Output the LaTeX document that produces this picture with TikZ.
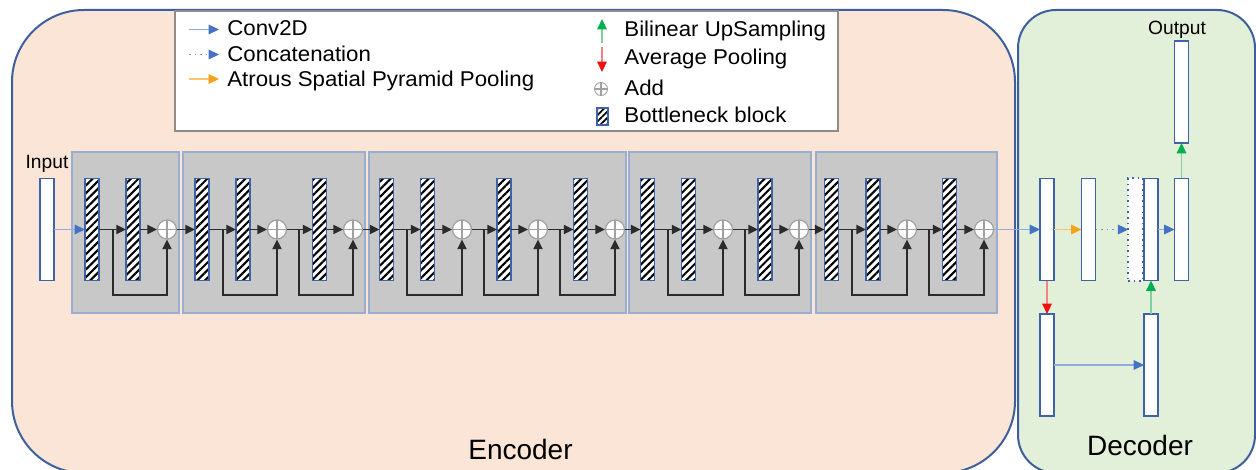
\documentclass[tikz,border=0pt]{standalone}
\usepackage{fontspec}
\setmainfont{Liberation Sans}
\newfontfamily\legfont{Liberation Sans}[FakeStretch=1.04]
\usetikzlibrary{arrows.meta,patterns.meta,calc}
\definecolor{encfill}{HTML}{FBE5D6}
\definecolor{decfill}{HTML}{E2F0D9}
\definecolor{frame}{HTML}{3E5F9E}
\definecolor{stagefill}{HTML}{C8C8C8}
\definecolor{stageline}{HTML}{9AAECF}
\definecolor{barline}{HTML}{3F62A6}
\definecolor{blueL}{HTML}{8FAADC}
\definecolor{blueD}{HTML}{7393D3}
\definecolor{blueH}{HTML}{4472C4}
\definecolor{orangeL}{HTML}{FFC46B}
\definecolor{orangeH}{HTML}{F5A21B}
\definecolor{greenL}{HTML}{7FD1A0}
\definecolor{greenH}{HTML}{00B050}
\definecolor{redL}{HTML}{F08585}
\definecolor{redH}{HTML}{F01010}
\definecolor{addline}{HTML}{A0A0A0}
\definecolor{flow}{HTML}{2B2B2B}
\definecolor{legline}{HTML}{8C8C8C}
\tikzset{
  barbox/.style={draw=barline, line width=0.75pt, fill=white, minimum width=7pt, minimum height=51pt, inner sep=0pt, outer sep=0pt},
  hbar/.style={barbox, preaction={fill=white}, pattern={Lines[angle=45,distance=2.7pt,line width=1.05pt]}},
  dbar/.style={barbox, dotted, line width=1pt},
  addnode/.style={circle, draw=addline, fill=white, line width=0.6pt, minimum size=9.5pt, inner sep=0pt,
    path picture={\draw[addline, line width=0.6pt] (path picture bounding box.north) -- (path picture bounding box.south) (path picture bounding box.west) -- (path picture bounding box.east);}},
  flowarrow/.style={draw=flow, line width=0.7pt, -{Triangle[length=4.8pt,width=4.6pt]}},
  bluearrow/.style={draw=blueL, line width=0.7pt, -{Triangle[length=5.2pt,width=4.8pt,color=blueH]}},
  dotarrow/.style={draw=blueD, line width=0.8pt, dotted, -{Triangle[length=5.2pt,width=4.8pt,color=blueH]}},
  orangearrow/.style={draw=orangeL, line width=0.7pt, -{Triangle[length=5.2pt,width=4.8pt,color=orangeH]}},
  greenarrow/.style={draw=greenL, line width=0.7pt, -{Triangle[length=5.2pt,width=4.8pt,color=greenH]}},
  redarrow/.style={draw=redL, line width=0.7pt, -{Triangle[length=5.2pt,width=4.8pt,color=redH]}},
  stagebox/.style={draw=stageline, fill=stagefill, line width=0.6pt},
  legtext/.style={inner sep=0pt, anchor=base west, font=\legfont\fontsize{10.7}{12}\selectfont},
  bigtext/.style={inner sep=0pt, anchor=base, font=\fontsize{14}{16}\selectfont},
  smalltext/.style={inner sep=0pt, anchor=base, font=\fontsize{9.6}{11}\selectfont},
}
\begin{document}
\begin{tikzpicture}[x=0.5pt, y=-0.5pt]
\useasboundingbox (0,0) rectangle (1256,470);
% panels
\draw[draw=frame, line width=1pt, fill=encfill, rounded corners=36pt] (12,10) rectangle (1015,473);
\draw[draw=frame, line width=1pt, fill=decfill, rounded corners=19pt] (1018,10) rectangle (1255,473);
\node[bigtext] (enc) at (520.5,459) {Encoder};
\node[bigtext] (dec) at (1140,455) {Decoder};
% legend
\draw[draw=legline, line width=0.6pt, fill=white] (175,11) rectangle (838,131);
\coordinate (l1a) at (189,29.5); \coordinate (l1b) at (219,29.5);
\coordinate (l2a) at (189,54.5); \coordinate (l2b) at (219,54.5);
\coordinate (l3a) at (189,79); \coordinate (l3b) at (219,79);
\draw[bluearrow] (l1a) -- (l1b);
\draw[dotarrow, line width=0.6pt] (l2a) -- (l2b);
\draw[orangearrow] (l3a) -- (l3b);
\node[legtext] (t1) at (227,36) {Conv2D};
\node[legtext] (t2) at (227,61.5) {Concatenation};
\node[legtext] (t3) at (227,86.5) {Atrous Spatial Pyramid Pooling};
\coordinate (r1a) at (602,43); \coordinate (r1b) at (602,19);
\coordinate (r2a) at (602,47); \coordinate (r2b) at (602,72);
\draw[greenarrow] (r1a) -- (r1b);
\draw[redarrow] (r2a) -- (r2b);
\node[addnode, minimum size=6.5pt, line width=0.45pt] (ladd) at (601,89) {};
\node[hbar, minimum width=5.5pt, minimum height=8.5pt, line width=0.6pt, pattern={Lines[angle=45,distance=2.2pt,line width=0.9pt]}] (lbar) at (602.5,116.5) {};
\node[legtext] (t4) at (624,37) {Bilinear UpSampling};
\node[legtext] (t5) at (624,65) {Average Pooling};
\node[legtext] (t6) at (624,96) {Add};
\node[legtext] (t7) at (624,123) {Bottleneck block};
% stages
\draw[stagebox] (72,152) rectangle (179,313);
\draw[stagebox] (183,152) rectangle (365,313);
\draw[stagebox] (369,152) rectangle (626,313);
\draw[stagebox] (629,152) rectangle (811,313);
\draw[stagebox] (816,152) rectangle (997,313);
% input
\node[barbox] (in) at (47,229.5) {};
\node[smalltext] (inlab) at (47,169) {Input};
% bars
\foreach \n/\x in {b1/92, b2/133, b3/202, b4/243, b5/319.5, b6/386.5, b7/427.5, b8/504, b9/580.5, b10/647.5, b11/688.5, b12/765, b13/831.5, b14/873, b15/949.5}
  \node[hbar] (\n) at (\x,229.5) {};
\foreach \n/\x in {a1/167, a2/277, a3/353, a4/462, a5/538, a6/615, a7/723, a8/799, a9/907, a10/984}
  \node[addnode] (\n) at (\x,229.5) {};
% main flow
\draw[bluearrow] (in) -- (b1);
\foreach \s/\t in {b1/b2, b2/a1, a1/b3, b3/b4, b4/a2, a2/b5, b5/a3, a3/b6, b6/b7, b7/a4, a4/b8, b8/a5, a5/b9, b9/a6, a6/b10, b10/b11, b11/a7, a7/b12, b12/a8, a8/b13, b13/b14, b14/a9, a9/b15, b15/a10}
  \draw[flowarrow] (\s) -- (\t);
% skips
\foreach \i/\x/\a in {1/113/a1, 2/223/a2, 3/299/a3, 4/407/a4, 5/484/a5, 6/560/a6, 7/668/a7, 8/745/a8, 9/852/a9, 10/929/a10} {
  \coordinate (j\i) at (\x,229.5);
  \draw[flowarrow] (j\i) -- ++(0,65.5) -| (\a);
}
% decoder
\node[barbox] (d1) at (1047,229.5) {};
\node[barbox] (d2) at (1088.5,229.5) {};
\node[dbar, minimum width=7.5pt] (dc) at (1135.75,229.5) {};
\node[barbox] (d3) at (1151,229.5) {};
\node[barbox] (d4) at (1181.5,229.5) {};
\node[barbox] (out) at (1181.5,92) {};
\node[smalltext] (outlab) at (1177,35) {Output};
\node[barbox] (bl) at (1047,365) {};
\node[barbox] (br) at (1151,365) {};
\draw[bluearrow] (a10) -- (d1);
\draw[orangearrow] (d1) -- (d2);
\draw[dotarrow] (d2) -- (dc);
\draw[bluearrow] (d3) -- (d4);
\draw[greenarrow] (d4) -- (out);
\draw[redarrow] (d1) -- (bl);
\draw[bluearrow] (bl) -- (br);
\draw[greenarrow] (br) -- (d3);
\end{tikzpicture}
\end{document}
